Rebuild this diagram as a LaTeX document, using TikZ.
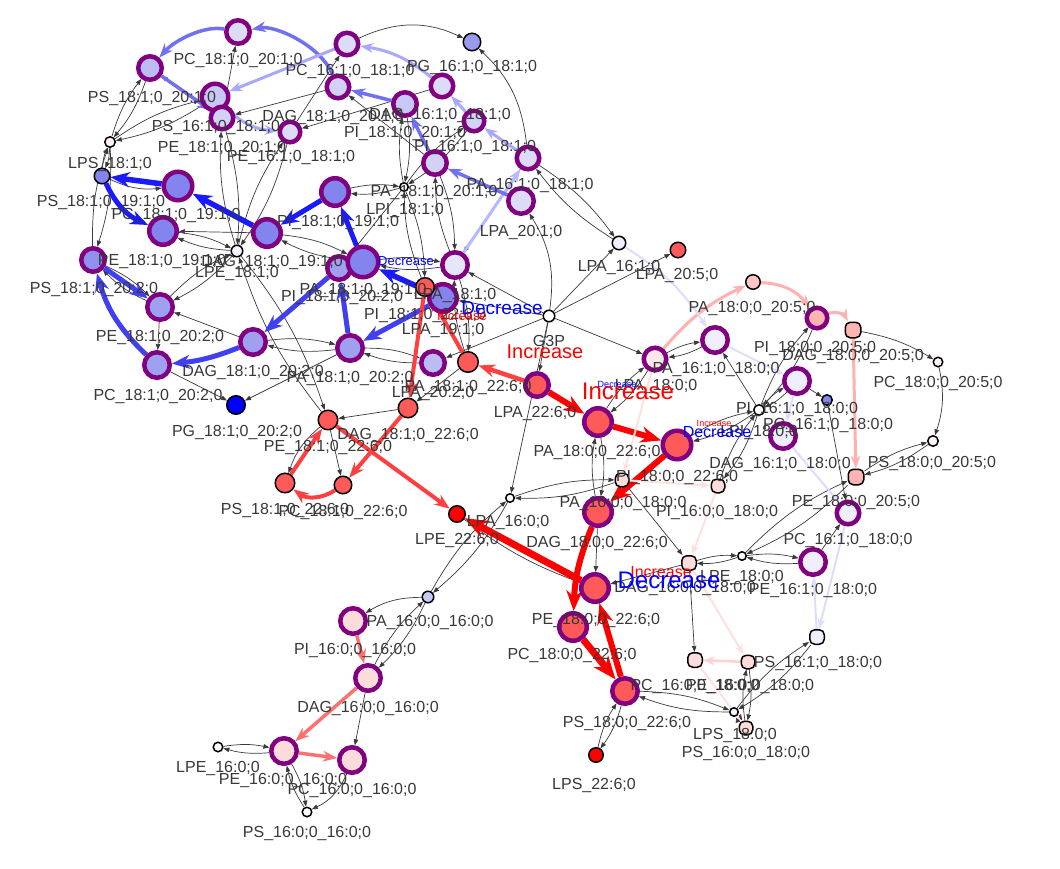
\documentclass[tikz,border=0pt]{standalone}
\usepackage{fontspec}
\setmainfont{Liberation Sans}
\usetikzlibrary{arrows.meta}
\pgfdeclarelayer{bg}
\pgfdeclarelayer{fg}
\pgfsetlayers{bg,main,fg}
\definecolor{purp}{HTML}{800080}
\definecolor{labc}{HTML}{383838}
\definecolor{edgec}{HTML}{3A3A3A}
\definecolor{cA}{HTML}{DCDCF8}
\definecolor{cB}{HTML}{C8C8F5}
\definecolor{cBB}{HTML}{D2D2F6}
\definecolor{cC}{HTML}{BCBCF4}
\definecolor{cD}{HTML}{A0A0F0}
\definecolor{cDD}{HTML}{9090EE}
\definecolor{cE}{HTML}{8484EE}
\definecolor{cF}{HTML}{EEEEFE}
\definecolor{cG}{HTML}{E6E6FA}
\definecolor{pgb}{HTML}{9999EE}
\definecolor{blueO}{HTML}{0000FF}
\definecolor{redA}{HTML}{FF5A5A}
\definecolor{redO}{HTML}{FF0000}
\definecolor{pkA}{HTML}{FFB4B4}
\definecolor{pkB}{HTML}{FFDCDC}
\definecolor{pkC}{HTML}{FFE8E8}
\definecolor{pkD}{HTML}{FFC4C4}
\definecolor{wpk}{HTML}{FFF4F4}
\definecolor{wbl}{HTML}{F4F4FF}
\definecolor{ebA}{HTML}{1A1AFF}
\definecolor{ebB}{HTML}{4040F0}
\definecolor{ebC}{HTML}{7070F0}
\definecolor{ebD}{HTML}{A8A8FF}
\definecolor{ebE}{HTML}{B8B8FF}
\definecolor{ebF}{HTML}{DCDCFF}
\definecolor{erA}{HTML}{FF0000}
\definecolor{erB}{HTML}{FF4040}
\definecolor{erC}{HTML}{FF7070}
\definecolor{epA}{HTML}{FFB0B0}
\definecolor{epB}{HTML}{FFE0E0}
\definecolor{epC}{HTML}{FFD0D0}
\tikzset{
  bigc/.style={circle, draw=purp, line width=4.5pt, minimum size=#1pt-4.5pt, inner sep=0pt},
  smc/.style={circle, draw=black, line width=1.5pt, minimum size=#1pt-1.5pt, inner sep=0pt},
  rnd/.style={rectangle, rounded corners=5pt, draw=black, line width=1.5pt, minimum size=#1pt-1.5pt, inner sep=0pt},
  lab/.style={font=\fontsize{16}{18}\selectfont, text=labc, inner sep=0pt},
  te/.style={draw=edgec, line width=0.7pt, -{Triangle[length=6pt,width=4.5pt]}},
  ce/.style 2 args={draw=#1, line width=#2, -{Stealth[length=5pt 2.6,width=3pt 2.2]}},
  inc/.style={text=red, inner sep=0pt, font=\fontsize{#1}{#1}\selectfont},
  dec/.style={text=blue, inner sep=0pt, font=\fontsize{#1}{#1}\selectfont},
}
\newcommand\mkB[8]{\node[bigc=#2, fill=#5] (#1) at (#3,#4) {};\begin{pgfonlayer}{fg}\node[lab] (L#1) at (#7,#8) {#6};\end{pgfonlayer}}
\newcommand\mkS[8]{\node[smc=#2, fill=#5] (#1) at (#3,#4) {};\begin{pgfonlayer}{fg}\node[lab] (L#1) at (#7,#8) {#6};\end{pgfonlayer}}
\newcommand\mkR[8]{\node[rnd=#2, fill=#5] (#1) at (#3,#4) {};\begin{pgfonlayer}{fg}\node[lab] (L#1) at (#7,#8) {#6};\end{pgfonlayer}}
\newcommand\epair[2]{\draw[te] (#1) to[bend left=10] (#2); \draw[te] (#2) to[bend left=10] (#1);}
\newcommand\eone[2]{\draw[te] (#1) -- (#2);}
\begin{document}
\begin{tikzpicture}[x=1pt,y=-1pt]
\begin{pgfonlayer}{bg}
\fill[white] (0,0) rectangle (1060,868);
\end{pgfonlayer}
\useasboundingbox (0,0) rectangle (1060,868);
% ---- top-left blue cluster
\mkB{pc181x201}{28}{238}{32}{cA}{PC\_18:1;0\_20:1;0}{238}{60}
\mkB{ps181x201}{28}{150}{68}{cC}{PS\_18:1;0\_20:1;0}{152}{98}
\mkB{ps161x181}{31}{215}{97}{cB}{PS\_16:1;0\_18:1;0}{216}{127}
\mkB{pe181x201}{27}{222}{118}{cBB}{PE\_18:1;0\_20:1;0}{222}{148}
\mkB{pe161x181}{25}{290}{132}{cA}{PE\_16:1;0\_18:1;0}{291}{157}
\mkB{pc161x181}{27}{347}{44}{cA}{PC\_16:1;0\_18:1;0}{350}{71}
\mkB{dag181x201}{27}{338}{87}{cBB}{DAG\_18:1;0\_20:1;0}{333}{117}
\mkB{pi181x201}{28}{405}{104}{cB}{PI\_18:1;0\_20:1;0}{405}{133}
\mkB{dag161x181}{27}{442}{86}{cA}{DAG\_16:1;0\_18:1;0}{440}{115}
\mkB{pi161x181}{25}{474}{121}{cBB}{PI\_16:1;0\_18:1;0}{475}{147}
\mkB{pa161x181}{27}{528}{158}{cA}{PA\_16:1;0\_18:1;0}{530}{185}
\mkB{pa181x201}{28}{435}{163}{cBB}{PA\_18:1;0\_20:1;0}{434}{192}
\mkB{lpa201}{30}{521}{201}{cA}{LPA\_20:1;0}{521}{232}
\mkS{pg161x181}{19}{472}{42}{pgb}{PG\_16:1;0\_18:1;0}{472}{67}
\mkS{lpi181}{10}{404}{187}{white}{LPI\_18:1;0}{405}{210}
% ---- left 19:1 / 20:2
\mkS{lps181}{12}{110}{142}{wpk}{LPS\_18:1;0}{110}{164}
\mkS{ps181x191}{17}{102}{176}{cE}{PS\_18:1;0\_19:1;0}{101}{202}
\mkB{pc181x191}{33}{178}{186}{cE}{PC\_18:1;0\_19:1;0}{176}{215}
\mkB{pe181x191}{32}{163}{231}{cE}{PE\_18:1;0\_19:1;0}{162}{261}
\mkB{ps181x202}{28}{93}{260}{cDD}{PS\_18:1;0\_20:2;0}{94}{289}
\mkS{lpe181}{13}{237}{251}{wbl}{LPE\_18:1;0}{237}{273}
\mkB{dag181x191}{32}{267}{233}{cE}{DAG\_18:1;0\_19:1;0}{272}{262}
\mkB{pi181x191}{32}{335}{192}{cE}{PI\_18:1;0\_19:1;0}{338}{222}
\mkB{pi181x202}{28}{339}{268}{cD}{PI\_18:1;0\_20:2;0}{342}{297}
\mkB{pa181x191}{35}{363}{262}{cE}{PA\_18:1;0\_19:1;0}{363}{290}
\mkB{pe181x202}{30}{160}{307}{cD}{PE\_18:1;0\_20:2;0}{160}{337}
\mkB{dag181x202}{30}{253}{342}{cD}{DAG\_18:1;0\_20:2;0}{253}{372}
\mkB{pc181x202}{30}{157}{365}{cD}{PC\_18:1;0\_20:2;0}{158}{396}
\mkB{pa181x202}{30}{350}{348}{cD}{PA\_18:1;0\_20:2;0}{350}{378}
\mkS{pg181x202}{20}{236}{405}{blueO}{PG\_18:1;0\_20:2;0}{237}{432}
\mkB{lpa181}{30}{455}{265}{cG}{LPA\_18:1;0}{455}{295}
\mkB{lpa191}{32}{443}{298}{cE}{LPA\_19:1;0}{443}{330}
\mkB{lpa202}{28}{433}{363}{cC}{LPA\_20:2;0}{433}{393}
% ---- red 18:1/22:6
\mkS{pi181x226}{20}{425}{287}{redA}{PI\_18:1;0\_22:6;0}{425}{315}
\mkS{pa181x226}{22}{468}{362}{redA}{PA\_18:1;0\_22:6;0}{468}{387}
\mkS{dag181x226}{21}{408}{408}{redA}{DAG\_18:1;0\_22:6;0}{408}{435}
\mkS{pe181x226}{21}{328}{420}{redA}{PE\_18:1;0\_22:6;0}{328}{447}
\mkS{ps181x226}{21}{285}{483}{redA}{PS\_18:1;0\_22:6;0}{285}{510}
\mkS{pc181x226}{19}{343}{485}{redA}{PC\_18:1;0\_22:6;0}{343}{512}
\mkS{lpe226}{18}{457}{514}{redO}{LPE\_22:6;0}{457}{540}
\mkS{lpa160}{10}{510}{498}{white}{LPA\_16:0;0}{508}{522}
% ---- center
\mkS{g3p}{13}{549}{316}{white}{G3P}{549}{341}
\mkB{lpa226}{28}{537}{385}{redA}{LPA\_22:6;0}{535}{413}
\mkB{pa180x226}{32}{598}{422}{redA}{PA\_18:0;0\_22:6;0}{597}{452}
\mkB{pi180x226}{33}{677}{445}{redA}{PI\_18:0;0\_22:6;0}{677}{477}
\mkB{dag180x226}{32}{598}{512}{redA}{DAG\_18:0;0\_22:6;0}{597}{543}
\mkB{pe180x226}{32}{595}{588}{redA}{PE\_18:0;0\_22:6;0}{596}{620}
\mkB{pc180x226}{32}{573}{627}{redA}{PC\_18:0;0\_22:6;0}{572}{655}
\mkB{ps180x226}{30}{625}{691}{redA}{PS\_18:0;0\_22:6;0}{627}{723}
\mkS{lps226}{16}{596}{755}{redO}{LPS\_22:6;0}{594}{785}
\mkR{pa160x180}{15}{622}{480}{pkB}{PA\_16:0;0\_18:0;0}{623}{503}
\mkR{pi160x180}{15}{718}{486}{pkB}{PI\_16:0;0\_18:0;0}{717}{512}
\mkR{dag160x180}{16}{689}{563}{pkB}{DAG\_16:0;0\_18:0;0}{685}{588}
\mkR{pc160x180}{16}{695}{660}{pkB}{PC\_16:0;0\_18:0;0}{695}{686}
\mkR{pe160x180}{15}{748}{662}{pkB}{PE\_16:0;0\_18:0;0}{750}{686}
\mkR{ps161x180}{16}{817}{637}{cF}{PS\_16:1;0\_18:0;0}{818}{663}
\mkS{lps180}{10}{734}{712}{wbl}{LPS\_18:0;0}{735}{735}
\mkR{ps160x180}{15}{746}{728}{pkB}{PS\_16:0;0\_18:0;0}{746}{753}
% ---- right
\mkS{lpe180}{10}{742}{556}{white}{LPE\_18:0;0}{742}{577}
\mkB{pe161x180}{30}{813}{562}{cF}{PE\_16:1;0\_18:0;0}{813}{590}
\mkB{pc161x180}{27}{848}{513}{cF}{PC\_16:1;0\_18:0;0}{848}{540}
\mkR{pe180x205}{17}{856}{477}{pkA}{PE\_18:0;0\_20:5;0}{856}{502}
\mkS{ps180x205}{12}{933}{441}{wpk}{PS\_18:0;0\_20:5;0}{932}{463}
\mkS{pc180x205}{11}{938}{362}{wpk}{PC\_18:0;0\_20:5;0}{938}{383}
\mkR{dag180x205}{17}{853}{330}{pkA}{DAG\_18:0;0\_20:5;0}{853}{356}
\mkB{pi180x205}{25}{817}{318}{pkA}{PI\_18:0;0\_20:5;0}{815}{348}
\mkS{pa180x205}{16}{753}{282}{pkD}{PA\_18:0;0\_20:5;0}{752}{308}
\mkS{lpa205}{17}{678}{250}{redA}{LPA\_20:5;0}{677}{275}
\mkS{lpa161}{15}{619}{243}{cF}{LPA\_16:1;0}{619}{267}
\mkB{pa161x180}{30}{715}{340}{cF}{PA\_16:1;0\_18:0;0}{716}{369}
\mkB{lpa180}{27}{655}{359}{pkC}{LPA\_18:0;0}{656}{386}
\mkB{pi161x180}{30}{797}{381}{cF}{PI\_16:1;0\_18:0;0}{797}{409}
\mkB{dag161x180}{30}{783}{436}{cF}{DAG\_16:1;0\_18:0;0}{780}{464}
\mkS{pg161x180}{12}{827}{400}{cE}{PG\_16:1;0\_18:0;0}{828}{425}
\mkS{lpi180}{12}{759}{410}{white}{LPI\_18:0;0}{759}{432}
% ---- bottom-left
\mkS{pa160x160}{13}{428}{597}{cB}{PA\_16:0;0\_16:0;0}{430}{622}
\mkB{pi160x160}{30}{353}{621}{pkB}{PI\_16:0;0\_16:0;0}{355}{650}
\mkB{dag160x160}{30}{368}{678}{pkB}{DAG\_16:0;0\_16:0;0}{368}{708}
\mkB{pe160x160}{30}{284}{751}{pkB}{PE\_16:0;0\_16:0;0}{283}{780}
\mkB{pc160x160}{30}{352}{760}{pkB}{PC\_16:0;0\_16:0;0}{352}{790}
\mkS{lpe160}{11}{218}{747}{white}{LPE\_16:0;0}{218}{768}
\mkS{ps160x160}{11}{307}{812}{white}{PS\_16:0;0\_16:0;0}{307}{833}

\begin{pgfonlayer}{bg}
% ---- thin edges
\epair{lps181}{ps181x201}
\epair{lps181}{ps161x181}
\eone{pe181x201}{ps181x201}
\epair{lps181}{ps181x191}
\epair{lps181}{ps181x202}
\draw[te] (ps181x191) to[bend right=15] (pc181x191);
\epair{lpe181}{pe181x191}
\eone{dag181x191}{pe181x191}
\epair{lpe181}{pe181x202}
\epair{lpe181}{pe181x201}
\epair{lpe181}{pe161x181}
\eone{pe181x201}{pc181x201}
\eone{pe161x181}{pc161x181}
\eone{dag181x201}{pe181x201}
\eone{dag161x181}{pe161x181}
\eone{pa181x201}{dag181x201}
\draw[te] (pc161x181) to[bend left=25] (pg161x181);
\draw[te] (pa161x181) to[bend right=20] (pg161x181);
\epair{lpi181}{pi181x201}
\epair{lpi181}{pi161x181}
\epair{lpi181}{pi181x191}
\epair{lpi181}{pi181x226}
\eone{lpi181}{pi181x202}
\epair{pa181x201}{lpa181}
\eone{pa161x181}{lpa181}
\epair{lpa161}{pa161x181}
\eone{g3p}{lpa181}
\eone{g3p}{lpa161}
\eone{g3p}{lpa205}
\eone{g3p}{lpa180}
\eone{g3p}{lpa226}
\eone{g3p}{lpa202}
\eone{g3p}{lpa191}
\eone{g3p}{lpa160}
\draw[te] (g3p) to[bend right=20] (lpa201);
\epair{lpa181}{pa181x226}
\epair{lpa202}{pa181x202}
\eone{dag181x226}{pe181x226}
\eone{pa181x226}{dag181x226}
\draw[te] (pe181x226) to[bend right=15] (ps181x226);
\eone{pe181x226}{pc181x226}
\epair{pa181x202}{dag181x202}
\eone{pa181x202}{pg181x202}
\eone{pc181x202}{pg181x202}
\eone{dag181x202}{pe181x202}
\eone{pe181x202}{pc181x202}
\epair{ps181x202}{pe181x202}
\epair{lpe181}{pe181x226}
\epair{lpa160}{pa160x160}
\epair{lpa160}{pa160x180}
\epair{pa180x226}{dag180x226}
\eone{dag180x226}{pe180x226}
\eone{pa160x180}{dag160x180}
\epair{lpa180}{pa180x226}
\epair{lpa180}{pa161x180}
\eone{dag160x180}{pe180x226}
\epair{dag160x180}{lpe180}
\eone{dag160x180}{pc160x180}
\epair{lpe180}{pe161x180}
\epair{pe180x205}{lpe180}
\epair{pe180x205}{ps180x205}
\draw[te] (dag180x205) to[bend left=10] (pc180x205);
\draw[te] (pc180x205) to[bend left=15] (ps180x205);
\eone{pe161x180}{pc161x180}
\eone{pi161x180}{pg161x180}
\eone{pg161x180}{pc161x180}
\epair{lpi180}{pi161x180}
\epair{lpi180}{pi180x226}
\epair{lpi180}{pi160x180}
\epair{lpi180}{pi180x205}
\eone{lpi180}{pa161x180}
\epair{ps180x226}{lps226}
\epair{ps180x226}{lps180}
\eone{pe180x226}{ps180x226}
\epair{lps180}{ps161x180}
\epair{lps180}{ps160x180}
\epair{pe160x180}{ps160x180}
\draw[te] (pa160x160) to[bend right=15] (pi160x160);
\epair{pa160x160}{dag160x160}
\eone{dag160x160}{pc160x160}
\epair{pe160x160}{lpe160}
\epair{pe160x160}{ps160x160}
\draw[te] (pc160x160) to[bend left=20] (ps160x160);
\draw[te] (lpe226) to[bend right=8] (pe180x226);
\epair{pa181x191}{dag181x191}
\epair{lpa181}{pa181x191}
% ---- coloured edges: 20:1 / 16:1
\draw[ce={ebC}{3.5pt}] (dag181x201) .. controls (320,45) and (275,25) .. (pc181x201);
\draw[ce={ebC}{3.5pt}] (pc181x201) .. controls (205,25) and (175,40) .. (ps181x201);
\draw[ce={ebC}{3.5pt}] (ps181x201) -- (pe181x201);
\draw[ce={ebD}{3pt}] (pc161x181) -- (ps161x181);
\draw[ce={ebD}{3pt}] (ps161x181) to[bend right=20] (pe161x181);
\draw[ce={ebD}{3pt}] (dag161x181) to[bend right=15] (pc161x181);
\draw[ce={ebD}{3pt}] (pa161x181) -- (pi161x181);
\draw[ce={ebD}{3pt}] (pi161x181) -- (dag161x181);
\draw[ce={ebE}{3pt}] (lpa181) -- (pa161x181);
\draw[ce={ebC}{3.5pt}] (lpa201) -- (pa181x201);
\draw[ce={ebC}{3.5pt}] (pa181x201) -- (pi181x201);
\draw[ce={ebC}{3.5pt}] (pi181x201) -- (dag181x201);
% 19:1
\draw[ce={ebA}{5.5pt}] (lpa191) -- (pa181x191);
\draw[ce={ebA}{5pt}] (pa181x191) -- (pi181x191);
\draw[ce={ebA}{5pt}] (pi181x191) -- (dag181x191);
\draw[ce={ebA}{5.5pt}] (dag181x191) -- (pc181x191);
\draw[ce={ebA}{5.5pt}] (pc181x191) -- (ps181x191);
\draw[ce={ebA}{5pt}] (ps181x191) to[bend right=20] (pe181x191);
% 20:2
\draw[ce={ebB}{5pt}] (lpa191) -- (pa181x202);
\draw[ce={ebB}{5pt}] (pa181x202) -- (pi181x202);
\draw[ce={ebB}{5pt}] (pi181x202) -- (dag181x202);
\draw[ce={ebB}{5pt}] (dag181x202) to[bend left=8] (pc181x202);
\draw[ce={ebB}{5pt}] (pc181x202) to[bend left=15] (ps181x202);
\draw[ce={ebB}{5pt}] (ps181x202) -- (pe181x202);
% red 18:1/22:6
\draw[ce={erB}{4.5pt}] (lpa226) -- (pa181x226);
\draw[ce={erB}{4pt}] (pa181x226) -- (pi181x226);
\draw[ce={erB}{4pt}] (pi181x226) -- (dag181x226);
\draw[ce={erB}{4pt}] (dag181x226) -- (pc181x226);
\draw[ce={erB}{4pt}] (pc181x226) to[bend left=35] (ps181x226);
\draw[ce={erB}{4pt}] (ps181x226) -- (pe181x226);
\draw[ce={erB}{4pt}] (pe181x226) -- (lpe226);
% red 18:0/22:6
\draw[ce={erA}{6pt}] (lpa226) -- (pa180x226);
\draw[ce={erA}{6pt}] (pa180x226) -- (pi180x226);
\draw[ce={erA}{6pt}] (pi180x226) -- (dag180x226);
\draw[ce={erA}{6pt}] (dag180x226) to[bend right=10] (pc180x226);
\draw[ce={erA}{7pt}] (pc180x226) -- (ps180x226);
\draw[ce={erA}{6pt}] (ps180x226) -- (pe180x226);
\draw[ce={erA}{7pt}] (pe180x226) -- (lpe226);
% pink 18:0/20:5
\draw[ce={epA}{3pt}] (lpa180) to[bend left=12] (pa180x205);
\draw[ce={epA}{3pt}] (pa180x205) to[bend left=25] (pi180x205);
\draw[ce={epA}{3pt}] (pi180x205) to[bend left=40] (dag180x205);
\draw[ce={epA}{3pt}] (dag180x205) -- (pe180x205);
% faint pink 16:0/18:0
\draw[ce={epB}{2pt}] (lpa180) -- (pa160x180);
\draw[ce={epB}{2pt}] (pa160x180) -- (pi160x180);
\draw[ce={epB}{2pt}] (pi160x180) -- (dag160x180);
\draw[ce={epB}{2pt}] (dag160x180) -- (pe160x180);
\draw[ce={epC}{2.5pt}] (pe160x180) -- (pc160x180);
\draw[ce={epB}{2pt}] (pc160x180) -- (ps160x180);
% faint lavender 16:1/18:0
\draw[ce={ebF}{2pt}] (lpa161) to[bend left=12] (pa161x180);
\draw[ce={ebF}{2pt}] (pa161x180) -- (pi161x180);
\draw[ce={ebF}{2pt}] (pi161x180) -- (dag161x180);
\draw[ce={ebF}{2pt}] (dag161x180) -- (pc161x180);
\draw[ce={ebF}{2pt}] (pc161x180) -- (ps161x180);
\draw[ce={ebF}{2pt}] (ps161x180) -- (pe161x180);
% 16:0/16:0
\draw[ce={erC}{3.5pt}] (pi160x160) -- (dag160x160);
\draw[ce={erC}{3.5pt}] (dag160x160) -- (pe160x160);
\draw[ce={erC}{3.5pt}] (pe160x160) -- (pc160x160);
\end{pgfonlayer}

\begin{pgfonlayer}{fg}
\node[dec=13] (d1) at (406,261) {Decrease};
\node[dec=19] (d2) at (502,308) {Decrease};
\node[inc=13] (i1) at (462,316) {Increase};
\node[inc=20] (i2) at (545,352) {Increase};
\node[inc=24] (i3) at (628,391) {Increase};
\node[dec=9] (d3) at (617,384) {Decrease};
\node[inc=9] (i4) at (714,423) {Increase};
\node[dec=16] (d4) at (717,432) {Decrease};
\node[inc=16] (i5) at (661,572) {Increase};
\node[dec=24] (d5) at (669,580) {Decrease};
\end{pgfonlayer}
\end{tikzpicture}
\end{document}
